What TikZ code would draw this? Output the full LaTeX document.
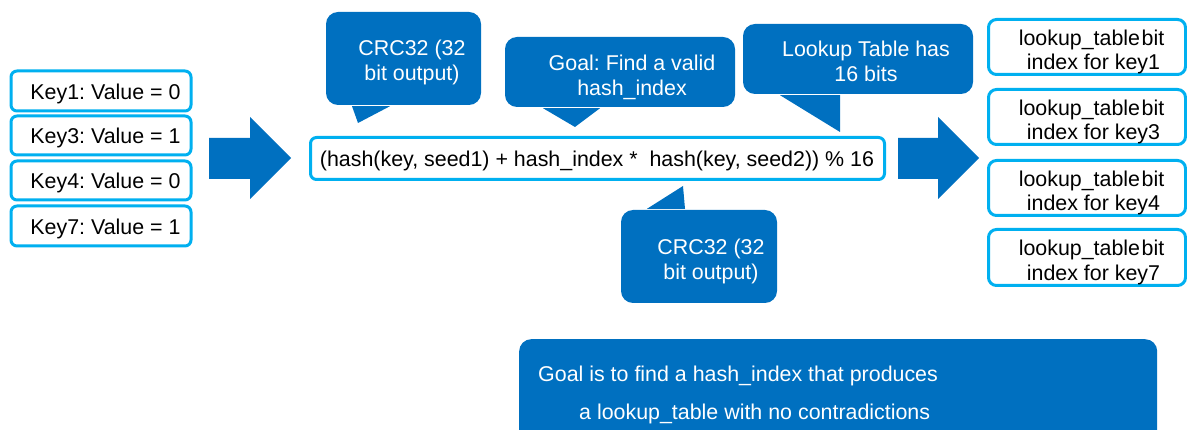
\documentclass[tikz,border=0pt]{standalone}
\usepackage{fontspec}
\setmainfont{Liberation Sans}
\definecolor{boxcyan}{HTML}{00B0F0}
\definecolor{callblue}{HTML}{0070C0}
\begin{document}
\frenchspacing
\begin{tikzpicture}[x=1pt,y=-1pt,
  every node/.style={font=\fontsize{21.4}{25}\selectfont\frenchspacing, inner sep=0pt},
  keybox/.style={draw=boxcyan, line width=3pt, rounded corners=6pt, fill=white, minimum width=180pt},
  lutbox/.style={draw=boxcyan, line width=3pt, rounded corners=8pt, fill=white, minimum width=197pt, minimum height=55pt},
  luttext/.style={align=center, font=\fontsize{21.4}{24.5}\selectfont\frenchspacing},
  callbox/.style={fill=callblue, rounded corners=12pt},
  calltext/.style={text=white, align=center},
  bigarrow/.style={fill=callblue}
]
\useasboundingbox (0,0) rectangle (1187,430);
\begin{scope}
\clip (0,0) rectangle (1187,430);

% key boxes
\node[keybox, minimum height=40pt] (k1) at (101,91) {};
\node[keybox, minimum height=39pt] (k3) at (101,135.5) {};
\node[keybox, minimum height=39pt] (k4) at (101,180.5) {};
\node[keybox, minimum height=40pt] (k7) at (101,226) {};
\node (k1t) at (105.5,93.5) {Key1: Value = 0};
\node (k3t) at (105.5,138) {Key3: Value = 1};
\node (k4t) at (105.5,183) {Key4: Value = 0};
\node (k7t) at (105.5,228.5) {Key7: Value = 1};

% arrows
\fill[bigarrow] (209,138) -- (250,138) -- (250,117) -- (291,158) -- (250,199) -- (250,179) -- (209,179) -- cycle;
\fill[bigarrow] (898,138) -- (938,138) -- (938,117) -- (979,158) -- (938,199) -- (938,179) -- (898,179) -- cycle;

% formula
\node[draw=boxcyan, line width=3pt, rounded corners=6pt, minimum width=574pt, minimum height=42pt] (formula) at (597.5,158.5) {};
\node (ftext) at (597,160.5) {(hash(key, seed1) + hash\_index *\ \ hash(key, seed2)) \% 16};

% lookup table boxes
\node[lutbox] (l1) at (1087,47) {};
\node[lutbox] (l3) at (1087,117) {};
\node[lutbox] (l4) at (1087,188) {};
\node[lutbox, minimum height=56pt] (l7) at (1087,257.5) {};
\node[luttext] (l1t) at (1091,52) {\hspace*{1pt}lookup\_table\hspace{1.5pt}bit\\\hspace*{5pt}index for key1};
\node[luttext] (l3t) at (1091,122) {\hspace*{1pt}lookup\_table\hspace{1.5pt}bit\\\hspace*{5pt}index for key3};
\node[luttext] (l4t) at (1091,193) {\hspace*{1pt}lookup\_table\hspace{1.5pt}bit\\\hspace*{5pt}index for key4};
\node[luttext] (l7t) at (1091,262.5) {\hspace*{1pt}lookup\_table\hspace{1.5pt}bit\\\hspace*{5pt}index for key7};

% callouts
\node[callbox, minimum width=155pt, minimum height=93pt] (c1) at (403.5,58.5) {};
\coordinate (c1tip) at (358,123);
\fill[callblue] ([xshift=-51.5pt,yshift=-1pt]c1.south) -- ([xshift=-13.5pt,yshift=-1pt]c1.south) -- (c1tip) -- cycle;
\node[calltext] (c1t) at (412,62.5) {CRC32 (32\\bit output)};

\node[callbox, minimum width=230pt, minimum height=70pt] (c2) at (620,72) {};
\coordinate (c2tip) at (575,127);
\fill[callblue] ([xshift=-77pt,yshift=-1pt]c2.south) -- ([xshift=-20pt,yshift=-1pt]c2.south) -- (c2tip) -- cycle;
\node[calltext] (c2t) at (632,77.5) {Goal: Find a valid\\hash\_index};

\node[callbox, minimum width=230pt, minimum height=70pt] (c3) at (858,59) {};
\coordinate (c3tip) at (840,132);
\fill[callblue] ([xshift=-78pt,yshift=-1pt]c3.south) -- ([xshift=-18pt,yshift=-1pt]c3.south) -- (c3tip) -- cycle;
\node[calltext] (c3t) at (866,61.5) {Lookup Table has\\16 bits};

\node[callbox, minimum width=156pt, minimum height=93pt] (c4) at (699,256.5) {};
\coordinate (c4tip) at (683,186);
\fill[callblue] ([xshift=-52pt,yshift=1pt]c4.north) -- ([xshift=-14pt,yshift=1pt]c4.north) -- (c4tip) -- cycle;
\node[calltext] (c4t) at (711,261) {CRC32 (32\\bit output)};

% goal box
\node[callbox, anchor=north west, minimum width=638pt, minimum height=110pt] (goal) at (519,339) {};
\node[text=white, anchor=west] (g1) at (538,376) {Goal is to find a hash\_index that produces};
\node[text=white, anchor=west] (g2) at (579,414) {a lookup\_table with no contradictions};
\end{scope}
\end{tikzpicture}
\end{document}
